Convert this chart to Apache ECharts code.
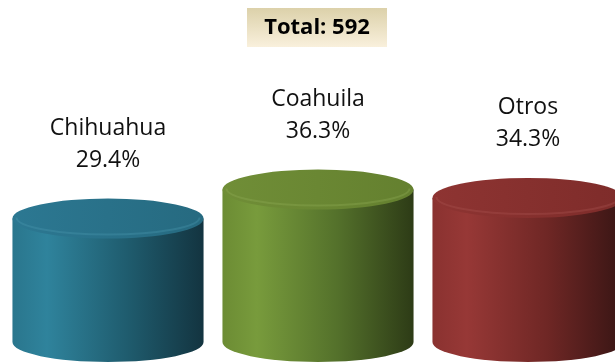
<!DOCTYPE html>
<html>
<head>
<meta charset="utf-8">
<script src="https://cdn.jsdelivr.net/npm/echarts@6/dist/echarts.min.js"></script>
<style>
  html, body { margin: 0; padding: 0; background: #fff; }
  #chart { width: 615px; height: 362px; }
</style>
</head>
<body>
<div id="chart"></div>
<script>
// Share of records by state
const categories = ['Chihuahua', 'Coahuila', 'Otros'];
const shares = [29.4, 36.3, 34.3];
const totalCount = 592;

// Cylinder shading per category: [left, light, mid, right, face left, face right, rim]
const palettes = [
  ['#2a768d', '#2f839c', '#1f5c6e', '#133440', '#2c7892', '#266a80', '#4a97ae'],
  ['#6c8c34', '#789b3c', '#54712b', '#2d3b16', '#708e37', '#64802f', '#8eab55'],
  ['#8a3230', '#973836', '#6f2725', '#381514', '#8e3432', '#7e2c2a', '#a85250']
];

const chart = echarts.init(document.getElementById('chart'), null, { renderer: 'canvas' });

function renderCylinder(params, api) {
  const idx = api.value(0);
  const val = api.value(1);
  const top = api.coord([idx, val]);
  const base = api.coord([idx, 0]);
  const band = api.size([1, 0])[0];
  const rx = band * 0.455;
  const ry = 20;
  const cx = top[0];
  const ty = top[1];
  const by = base[1];
  const L = cx - rx, R = cx + rx;
  const p = palettes[idx];

  const side = new echarts.graphic.LinearGradient(0, 0, 1, 0, [
    { offset: 0, color: p[0] },
    { offset: 0.18, color: p[1] },
    { offset: 0.6, color: p[2] },
    { offset: 1, color: p[3] }
  ]);
  const face = new echarts.graphic.LinearGradient(0, 0, 1, 0, [
    { offset: 0, color: p[4] },
    { offset: 1, color: p[5] }
  ]);

  const bodyPath = 'M' + L + ',' + ty + ' L' + L + ',' + by +
    ' A' + rx + ',' + ry + ' 0 0 0 ' + R + ',' + by +
    ' L' + R + ',' + ty + ' Z';
  const topPath = 'M' + L + ',' + ty +
    ' A' + rx + ',' + ry + ' 0 1 1 ' + R + ',' + ty +
    ' A' + rx + ',' + ry + ' 0 1 1 ' + L + ',' + ty + ' Z';
  const rx2 = rx - 4, ry2 = ry - 3;
  const rimPath = 'M' + (cx - rx2) + ',' + (ty - 1) +
    ' A' + rx2 + ',' + ry2 + ' 0 0 0 ' + (cx + rx2) + ',' + (ty - 1);

  return {
    type: 'group',
    children: [
      { type: 'path', shape: { pathData: bodyPath }, style: { fill: side } },
      { type: 'path', shape: { pathData: topPath }, style: { fill: face } },
      { type: 'path', shape: { pathData: rimPath },
        style: { fill: null, stroke: p[6], lineWidth: 2, opacity: 0.35 } },
      { type: 'text',
        style: {
          x: cx, y: ty - 42,
          text: categories[idx] + '\n' + val.toFixed(1) + '%',
          font: '23px "Open Sans"',
          lineHeight: 32,
          fill: '#111',
          align: 'center',
          verticalAlign: 'bottom'
        } }
    ]
  };
}

chart.setOption({
  animation: false,
  grid: { left: 3, width: 630, top: 90, bottom: 20, containLabel: false, outerBoundsMode: 'none' },
  xAxis: { type: 'category', data: categories, show: false },
  yAxis: { type: 'value', min: 0, max: 60, show: false },
  graphic: [{
    type: 'group',
    left: 247, top: 8,
    children: [
      { type: 'rect', shape: { x: 0, y: 0, width: 140, height: 39 },
        style: { fill: new echarts.graphic.LinearGradient(0, 0, 0, 1, [
          { offset: 0, color: '#dcd1aa' },
          { offset: 1, color: '#f9f0dc' }
        ]) } },
      { type: 'text', x: 70, y: 20,
        style: { text: 'Total: ' + totalCount, font: 'bold 22px "Open Sans"', fill: '#000',
                 align: 'center', verticalAlign: 'middle' } }
    ]
  }],
  series: [{
    type: 'custom',
    renderItem: renderCylinder,
    data: shares.map((v, i) => [i, v]),
    clip: false
  }]
});
</script>
</body>
</html>
